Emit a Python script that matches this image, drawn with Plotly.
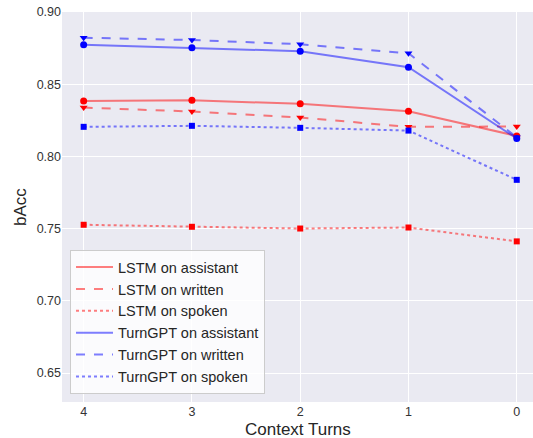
import plotly.graph_objects as go

turns = [4, 3, 2, 1, 0]
tick_labels = ["4", "3", "2", "1", "0"]

lstm_assistant = [0.8384, 0.8389, 0.8364, 0.8313, 0.8142]
lstm_written = [0.8338, 0.8311, 0.8269, 0.8205, 0.8207]
lstm_spoken = [0.7527, 0.7513, 0.7501, 0.7508, 0.7412]
gpt_assistant = [0.8774, 0.8753, 0.8728, 0.8618, 0.8124]
gpt_written = [0.8822, 0.8806, 0.8777, 0.8714, 0.8133]
gpt_spoken = [0.8205, 0.8212, 0.8198, 0.8179, 0.7838]

series = [
    ("LSTM on assistant", lstm_assistant, "red", "solid", "circle"),
    ("LSTM on written", lstm_written, "red", "dash", "triangle-down"),
    ("LSTM on spoken", lstm_spoken, "red", "dot", "square"),
    ("TurnGPT on assistant", gpt_assistant, "blue", "solid", "circle"),
    ("TurnGPT on written", gpt_written, "blue", "dash", "triangle-down"),
    ("TurnGPT on spoken", gpt_spoken, "blue", "dot", "square"),
]
rgba = {"red": "rgba(255,0,0,0.5)", "blue": "rgba(0,0,255,0.5)"}
solid = {"red": "#ff0000", "blue": "#0000ff"}

fig = go.Figure()
for name, vals, col, dash, sym in series:
    fig.add_trace(go.Scatter(
        x=turns, y=vals, mode="lines", name=name,
        line=dict(color=rgba[col], dash=dash, width=2),
    ))
for name, vals, col, dash, sym in series:
    fig.add_trace(go.Scatter(
        x=turns, y=vals, mode="markers", showlegend=False,
        marker=dict(color=solid[col], symbol=sym, size=7 if sym != "square" else 6,
                    line=dict(width=0)),
    ))

fig.update_layout(
    width=533, height=438,
    margin=dict(l=62, r=0, t=12, b=36),
    paper_bgcolor="white", plot_bgcolor="#EAEAF2",
    font=dict(family="Liberation Sans, Arial, sans-serif", color="#262626"),
    xaxis=dict(
        range=[4.2, -0.15], tickvals=turns, ticktext=tick_labels,
        gridcolor="white", gridwidth=1, zeroline=False, showline=False,
        tickfont=dict(size=12.5, color="#333333"), automargin=False,
        ticks="", ticklen=0,
    ),
    yaxis=dict(
        range=[0.63, 0.90], tickvals=[0.65, 0.70, 0.75, 0.80, 0.85, 0.90],
        tickformat=".2f", gridcolor="white", gridwidth=1, zeroline=False,
        showline=False, tickfont=dict(size=12.5, color="#333333"), automargin=False,
        ticks="", ticklen=0,
    ),
    legend=dict(
        x=0.017, y=0.02, xanchor="left", yanchor="bottom",
        bgcolor="rgba(255,255,255,0.8)", bordercolor="#cccccc", borderwidth=1,
        font=dict(size=14.5, color="#262626"), tracegroupgap=0, itemwidth=37,
    ),
    annotations=[
        dict(text="Context Turns", xref="paper", yref="paper", x=0.5, y=0,
             yshift=-27, xanchor="center", yanchor="middle", showarrow=False,
             font=dict(size=17, color="#262626")),
        dict(text="bAcc", xref="paper", yref="paper", x=0, y=0.5,
             xshift=-42, xanchor="center", yanchor="middle", showarrow=False,
             textangle=-90, font=dict(size=17, color="#262626")),
    ],
)

fig.write_html(
    "out.html",
    config={"displayModeBar": False},
    post_script="document.body.style.margin='0';document.body.style.padding='0';",
)
